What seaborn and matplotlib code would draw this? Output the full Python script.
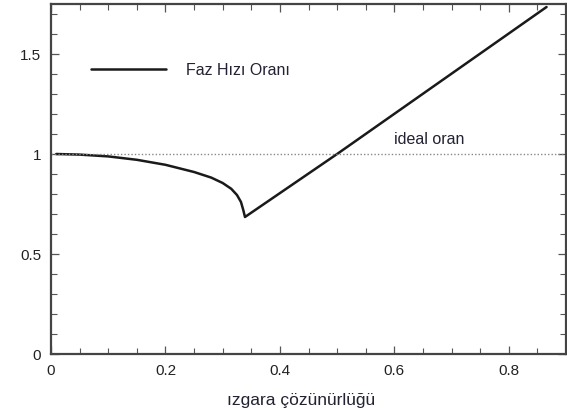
import matplotlib
matplotlib.use("Agg")
import matplotlib.pyplot as plt
import seaborn as sns
import pandas as pd
from matplotlib.ticker import MultipleLocator, FuncFormatter

# data
grid_res = [0.009, 0.05, 0.1, 0.15, 0.2, 0.25, 0.28, 0.3, 0.315, 0.325, 0.332, 0.336, 0.339,
            0.5, 0.866]
phase_ratio = [1.0, 0.997, 0.988, 0.971, 0.946, 0.91, 0.882, 0.855, 0.826, 0.795, 0.76, 0.72, 0.685,
               1.0, 1.735]
ideal_x = [0.0, 0.9]
ideal_y = [1.0, 1.0]
series_label = "Faz Hızı Oranı"
ideal_label = "ideal oran"
x_label = "ızgara çözünürlüğü"

sns.set_style("ticks")
plt.rcParams['font.family'] = ['Liberation Sans', 'DejaVu Sans']

fig = plt.figure(figsize=(5.67, 4.09), dpi=100)
ax = fig.add_axes([51/567, 1-354/409, 515/567, 350/409])

df = pd.DataFrame({"x": grid_res, "y": phase_ratio})
sns.lineplot(data=df, x="x", y="y", ax=ax, color="#1a1a1a", lw=1.8, sort=False,
             label=series_label, estimator=None)
sns.lineplot(x=ideal_x, y=ideal_y, ax=ax, color="#888888", lw=1.0, linestyle=(0, (1, 1.5)))

ax.set_xlim(0, 0.9)
ax.set_ylim(0, 1.75)
ax.xaxis.set_major_locator(MultipleLocator(0.2))
ax.xaxis.set_minor_locator(MultipleLocator(0.05))
ax.yaxis.set_major_locator(MultipleLocator(0.5))
ax.yaxis.set_minor_locator(MultipleLocator(0.1))
fmt = FuncFormatter(lambda v, p: "0" if abs(v) < 1e-9 else f"{v:g}")
ax.xaxis.set_major_formatter(fmt)
ax.yaxis.set_major_formatter(fmt)
ax.tick_params(which="both", direction="in", top=True, right=True, colors="#555555",
               labelcolor="#222222", labelsize=11)
ax.tick_params(which="major", length=6, width=0.9, pad=7)
ax.tick_params(which="minor", length=4, width=0.8)
for s in ax.spines.values():
    s.set_visible(True)
    s.set_color("#444444")
    s.set_linewidth(1.6)

ax.set_ylabel("")
ax.set_xlabel(x_label, fontsize=12.5, color="#222233")
ax.xaxis.set_label_coords((301-51)/515, -0.11)

ax.text(0.6, 1.075, ideal_label, fontsize=11.5, color="#222233", va="center", ha="left")

leg = ax.legend(loc="center left", bbox_to_anchor=(0.049, 0.81), frameon=False,
                handlelength=4.75, handletextpad=1.25, fontsize=11.5)
for t in leg.get_texts():
    t.set_color("#222233")

fig.savefig("out.png", dpi=100)
